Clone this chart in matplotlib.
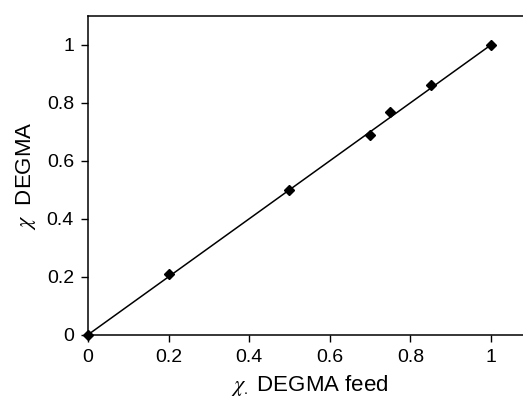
import matplotlib
matplotlib.use('Agg')
import matplotlib.pyplot as plt
import numpy as np

plt.rcParams['font.family'] = ['Liberation Sans', 'DejaVu Sans']
plt.rcParams['mathtext.fontset'] = 'stix'

# measured composition vs feed composition
x_feed = [0.0, 0.2, 0.5, 0.7, 0.75, 0.85, 1.0]
x_copol = [0.0, 0.21, 0.50, 0.69, 0.77, 0.86, 1.0]
fit_x = [0.0, 1.0]
fit_y = [0.0, 1.0]

fig = plt.figure(figsize=(5.23, 4.01), dpi=100)
ax = fig.add_axes([0.168, 0.165, 0.848, 0.7955])

ax.plot(fit_x, fit_y, color='black', lw=1.1)
ax.plot(x_feed, x_copol, 'D', color='black', ms=5, clip_on=False)

ax.set_xlim(0, 1.1)
ax.set_ylim(0, 1.1)
ax.set_xticks([0, 0.2, 0.4, 0.6, 0.8, 1])
ax.set_xticklabels(['0', '0.2', '0.4', '0.6', '0.8', '1'])
ax.set_yticks([0, 0.2, 0.4, 0.6, 0.8, 1])
ax.set_yticklabels(['0', '0.2', '0.4', '0.6', '0.8', '1'])
ax.tick_params(direction='out', length=5, width=1, labelsize=14, pad=5)

for s in ax.spines.values():
    s.set_linewidth(1.1)

ax.set_xlabel(r'$\chi_.$ DEGMA feed', fontsize=16, labelpad=5)
ax.set_ylabel(r'$\chi$  DEGMA', fontsize=16, labelpad=6)

plt.savefig('out.png', dpi=100)
